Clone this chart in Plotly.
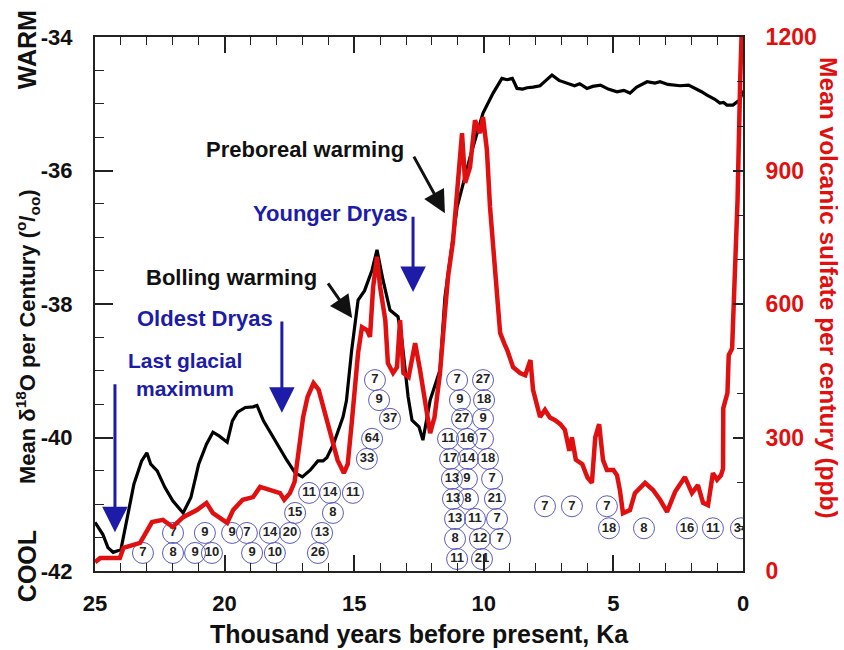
import plotly.graph_objects as go

# ---------------- data ----------------
d18o_ka = [25, 24.7, 24.5, 24.3, 24.0, 23.8, 23.5, 23.2, 23.0, 22.85, 22.6, 22.3, 22.0, 21.6,
           21.3, 21.0, 20.7, 20.45, 20.2, 19.9, 19.7, 19.5, 19.2, 18.9, 18.75, 18.5, 18.2, 17.98,
           17.6, 17.28, 17.0, 16.7, 16.4, 16.2, 16.05, 15.8, 15.66, 15.43, 15.3, 15.1, 14.85,
           14.6, 14.31, 14.12, 13.89, 13.62, 13.31, 13.16, 12.92, 12.77, 12.5, 12.35, 12.07,
           11.69, 11.5, 11.23, 11.03, 10.53, 10.03, 9.64, 9.45, 9.3, 9.1, 8.9, 8.8, 8.72, 8.5,
           8.33, 8.1, 7.83, 7.6, 7.37, 7.1, 6.8, 6.5, 6.3, 6.02, 5.8, 5.5, 5.2, 4.86, 4.6,
           4.36, 4.1, 3.7, 3.4, 3.2, 2.9, 2.43, 2.1, 1.93, 1.6, 1.39, 1.1, 0.89, 0.75, 0.62,
           0.39, 0.12, 0]
d18o_val = [-41.27, -41.45, -41.65, -41.72, -41.68, -41.3, -40.7, -40.35, -40.23, -40.4, -40.5,
            -40.75, -40.95, -41.13, -40.9, -40.4, -40.1, -39.92, -39.98, -40.07, -39.75, -39.62,
            -39.55, -39.54, -39.52, -39.75, -39.95, -40.08, -40.34, -40.53, -40.59, -40.49,
            -40.35, -40.35, -40.3, -40.1, -39.93, -39.69, -39.45, -38.7, -37.94, -37.8, -37.49,
            -37.19, -37.64, -38.09, -38.19, -38.54, -39.39, -39.74, -39.84, -40.04, -39.44,
            -38.99, -37.9, -37.15, -36.55, -35.8, -35.14, -34.84, -34.72, -34.62, -34.64,
            -34.62, -34.7, -34.77, -34.78, -34.76, -34.75, -34.73, -34.65, -34.57, -34.65,
            -34.69, -34.73, -34.7, -34.77, -34.74, -34.72, -34.78, -34.82, -34.8, -34.84,
            -34.75, -34.67, -34.69, -34.67, -34.71, -34.73, -34.72, -34.75, -34.82, -34.87,
            -34.93, -34.99, -34.98, -35.02, -35.02, -34.94, -34.8]

sulfate_ka = [25, 24.8, 24.04, 23.9, 23.26, 23.0, 22.8, 22.38, 22.0, 21.6, 21.07, 20.7, 20.45,
              19.9, 19.67, 19.3, 18.9, 18.63, 18.25, 17.86, 17.7, 17.48, 17.3, 17.1, 16.97,
              16.8, 16.57, 16.37, 16.17, 15.9, 15.64, 15.4, 15.25, 15.1, 14.97, 14.85, 14.7,
              14.5, 14.39, 14.27, 14.12, 14.0, 13.8, 13.7, 13.5, 13.35, 13.23, 13.1, 12.9,
              12.65, 12.46, 12.27, 12.07, 11.9, 11.69, 11.5, 11.38, 11.19, 11.03, 10.84, 10.72,
              10.53, 10.34, 10.15, 10.03, 9.88, 9.76, 9.49, 9.37, 9.2, 9.1, 8.87, 8.6, 8.4, 8.2,
              8.1, 7.83, 7.64, 7.45, 7.25, 7.05, 6.87, 6.7, 6.6, 6.45, 6.2, 6.0, 5.83, 5.7,
              5.55, 5.4, 5.25, 5.0, 4.86, 4.75, 4.63, 4.36, 4.17, 3.78, 3.47, 3.2, 2.93, 2.62,
              2.24, 1.97, 1.74, 1.54, 1.35, 1.16, 1.0, 0.85, 0.77, 0.76, 0.6, 0.55, 0.42, 0.3,
              0.21, 0.11, 0.03]
sulfate_val = [20, 29, 29, 52, 63, 92, 110, 115, 99, 121, 137, 153, 130, 108, 137, 160, 166,
               189, 182, 175, 160, 175, 200, 280, 346, 391, 422, 407, 362, 301, 249, 220, 240,
               330, 420, 490, 548, 541, 526, 638, 706, 638, 564, 467, 445, 458, 564, 445, 436,
               512, 452, 380, 310, 346, 445, 580, 661, 740, 849, 984, 872, 908, 1013, 984, 1020,
               946, 818, 609, 535, 510, 497, 458, 445, 440, 474, 407, 346, 362, 345, 339, 330,
               317, 270, 300, 250, 240, 210, 198, 300, 330, 249, 227, 227, 215, 182, 130, 137,
               175, 198, 182, 160, 133, 178, 211, 175, 193, 153, 148, 220, 205, 215, 230, 366,
               400, 485, 500, 700, 834, 1100, 1250]

# circled eruption counts: position (Ka, d18O-axis value) and label
circle_ka = [23.15, 21.99, 21.14, 20.49, 18.94, 18.06, 16.4,
             21.99, 20.76, 19.71, 19.14, 18.25, 17.48, 16.24,
             17.28, 15.82,
             16.74, 15.93, 15.05,
             14.2, 14.04, 13.62, 14.31, 14.51,
             11.38, 11.3, 11.23, 11.19, 11.11, 11.11, 11.03,
             11.03, 10.92, 10.84, 10.65, 10.61, 10.65, 10.61, 10.34, 10.15, 10.07,
             10.03, 9.99, 10.03, 10.03, 9.84, 9.68, 9.57, 9.49, 9.37,
             7.64, 6.6, 5.25, 5.17, 3.82, 2.16, 1.16, 0.08]
circle_y = [-41.73] * 7 + [-41.43] * 7 + [-41.13] * 2 + [-40.83] * 3 + \
           [-39.14, -39.44, -39.72, -40.02, -40.32] + \
           [-40.02, -40.32, -40.62, -40.92, -41.22, -41.52, -41.82] + \
           [-39.14, -39.44, -39.72, -40.02, -40.32, -40.62, -40.92, -41.22, -41.52, -41.82] + \
           [-39.14, -39.44, -39.72, -40.02, -40.32, -40.62, -40.92, -41.22, -41.52] + \
           [-41.03] * 3 + [-41.36] * 5
circle_label = ["7", "8", "9", "10", "9", "10", "26",
                "7", "9", "9", "7", "14", "20", "13",
                "15", "8",
                "11", "14", "11",
                "7", "9", "37", "64", "33",
                "11", "17", "13", "13", "13", "8", "11",
                "7", "9", "27", "16", "14", "9", "8", "11", "12", "21",
                "27", "18", "9", "7", "18", "7", "21", "7", "7",
                "7", "7", "7", "18", "8", "16", "11", "34"]

# event arrows: (tail Ka, tail d18O) -> (tip Ka, tip d18O)
event_arrows = {
    "Last glacial maximum": ((24.23, -39.18), (24.23, -41.42)),
    "Oldest Dryas": ((17.79, -38.24), (17.79, -39.63)),
    "Younger Dryas": ((12.73, -36.67), (12.73, -37.82)),
    "Bolling warming": ((16.05, -37.67), (15.08, -38.21)),
    "Preboreal warming": ((12.73, -35.77), (11.5, -36.64)),
}

y_left_ticks = [-42, -40, -38, -36, -34]
y_right_ticks = [0, 300, 600, 900, 1200]
x_ticks = [25, 20, 15, 10, 5, 0]

FONT = "Arial, 'Liberation Sans', sans-serif"
RED = "#e01010"
BLUE = "#1c1ca8"
BLACK = "#111111"

fig = go.Figure()
fig.add_trace(go.Scatter(x=sulfate_ka, y=sulfate_val, yaxis="y2", mode="lines",
                         line=dict(color=RED, width=4.5), hoverinfo="skip"))
fig.add_trace(go.Scatter(x=d18o_ka, y=d18o_val, mode="lines",
                         line=dict(color="#000000", width=3.2), hoverinfo="skip"))
fig.add_trace(go.Scatter(x=circle_ka, y=circle_y, mode="markers+text", text=circle_label,
                         textposition="middle center",
                         textfont=dict(family=FONT, size=13, color="#222222", weight="bold"),
                         marker=dict(size=21, color="rgba(255,255,255,0)",
                                     line=dict(color="#5b5bbf", width=1)),
                         hoverinfo="skip"))

fig.update_layout(
    width=844, height=650, margin=dict(l=95, r=101, t=37, b=79),
    paper_bgcolor="white", plot_bgcolor="white", showlegend=False,
    font=dict(family=FONT),
    xaxis=dict(range=[25, 0], tickvals=x_ticks, ticktext=[str(v) for v in x_ticks],
               ticks="inside", ticklen=16, tickwidth=1.5, tickcolor="#222",
               minor=dict(dtick=1, ticks="inside", ticklen=8, tickwidth=1, tickcolor="#222"),
               showline=True, linewidth=2, linecolor="#222", mirror="ticks",
               showgrid=False, zeroline=False, ticklabelstandoff=12,
               tickfont=dict(size=22, color=BLACK, weight="bold")),
    yaxis=dict(range=[-42, -34], tickvals=y_left_ticks, ticktext=[str(v) for v in y_left_ticks],
               ticks="inside", ticklen=18, tickwidth=1.5, tickcolor="#222",
               minor=dict(dtick=0.5, ticks="inside", ticklen=9, tickwidth=1, tickcolor="#222"),
               showline=True, linewidth=2, linecolor="#222",
               showgrid=False, zeroline=False, ticklabelstandoff=16,
               tickfont=dict(size=22, color=BLACK, weight="bold")),
    yaxis2=dict(range=[0, 1200], overlaying="y", side="right", tickvals=y_right_ticks,
                ticks="inside", ticklen=10, tickwidth=1.5, tickcolor="#222",
                minor=dict(dtick=100, ticks="inside", ticklen=6, tickwidth=1, tickcolor="#222"),
                showline=True, linewidth=2, linecolor="#222",
                showgrid=False, zeroline=False, ticklabelstandoff=16,
                tickfont=dict(size=23, color=RED, weight="bold")),
)

ann = []
def txt(x, y, s, color, size, xref="x", yref="y", angle=0):
    ann.append(dict(x=x, y=y, xref=xref, yref=yref, text=s, showarrow=False, textangle=angle,
                    xanchor="center", yanchor="middle",
                    font=dict(family=FONT, size=size, color=color, weight="bold")))

# axis titles
txt(-0.105, 0.44, "Mean δ<sup>18</sup>O per Century (<sup>o</sup>/<sub>oo</sub>)", BLACK, 22,
    "paper", "paper", -90)
txt(-0.105, 0.977, "WARM", BLACK, 25, "paper", "paper", -90)
txt(-0.105, 0.009, "COOL", BLACK, 25, "paper", "paper", -90)
txt(1.131, 0.53, "Mean volcanic sulfate per century (ppb)", RED, 24.5, "paper", "paper", 90)
txt(0.5, -0.118, "Thousand years before present, Ka", BLACK, 25, "paper", "paper")

# event labels
txt(21.53, -38.84, "Last glacial", BLUE, 21)
txt(21.53, -39.27, "maximum", BLUE, 21)
txt(20.76, -38.21, "Oldest Dryas", BLUE, 22)
txt(15.93, -36.64, "Younger Dryas", BLUE, 22)
txt(19.75, -37.6, "Bolling warming", BLACK, 22)
txt(16.9, -35.68, "Preboreal warming", BLACK, 22)

for name, (tail, tip) in event_arrows.items():
    col = BLUE if ("Dryas" in name or "glacial" in name) else BLACK
    ann.append(dict(x=tip[0], y=tip[1], ax=tail[0], ay=tail[1], xref="x", yref="y",
                    axref="x", ayref="y", text="", showarrow=True, arrowhead=2,
                    arrowsize=1.7 if col == BLUE else 1.5, arrowwidth=3, arrowcolor=col,
                    standoff=0, startstandoff=0))

fig.update_layout(annotations=ann)
fig.write_html("out.html")
